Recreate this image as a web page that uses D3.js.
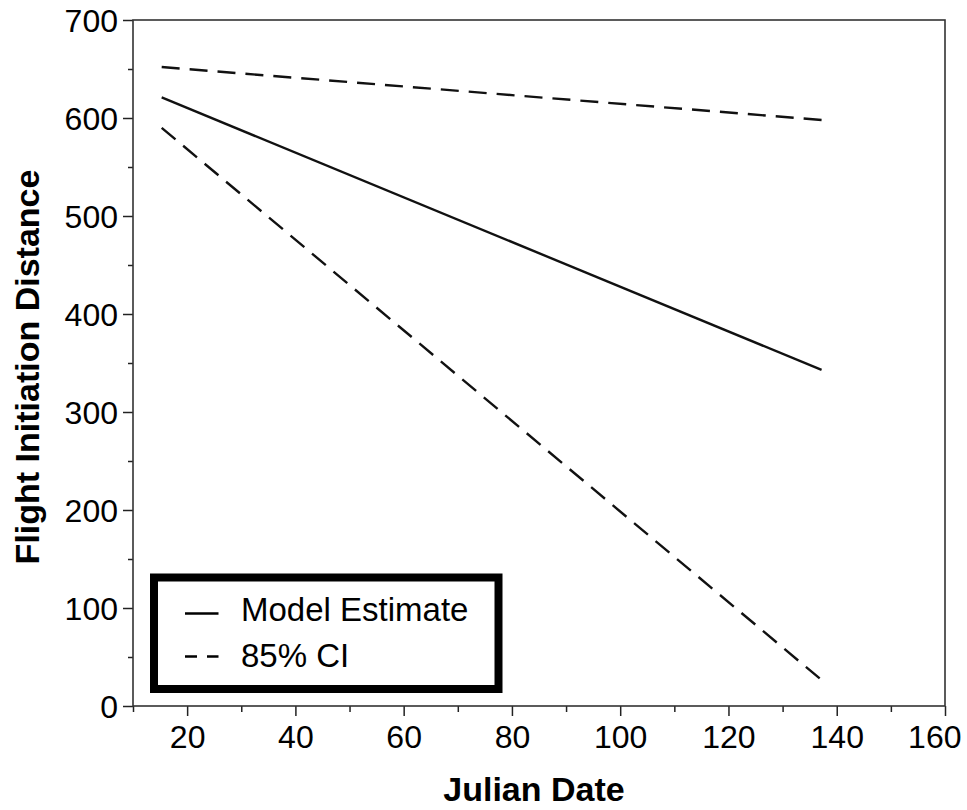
<!DOCTYPE html>
<html>
<head>
<meta charset="utf-8">
<script src="https://cdn.jsdelivr.net/npm/d3@7"></script>
<style>
  body { margin: 0; background: #fff; }
  svg { display: block; font-family: "Liberation Sans", Arial, sans-serif; }
  .tick text { fill: #000; }
</style>
</head>
<body>
<svg></svg>
<script>
// data
const julianDate = [15.3, 137.2];
const modelEstimate = [621, 343];
const ciUpper = [652, 598];
const ciLower = [590, 26.5];

const xMajor = [20, 40, 60, 80, 100, 120, 140, 160];
const xMinor = [10, 30, 50, 70, 90, 110, 130, 150];
const yMajor = [0, 100, 200, 300, 400, 500, 600, 700];
const yMinor = [50, 150, 250, 350, 450, 550, 650];

const legendItems = ['Model Estimate', '85% CI'];

const size = {w: 967, h: 810};
const margin = {t: 20, r: 22, b: 104, l: 133};
const svg = d3.select('svg')
    .attr('width', size.w)
    .attr('height', size.h);

const x = d3.scaleLinear().domain([10, 160]).range([margin.l, size.w - margin.r]);
const y = d3.scaleLinear().domain([0, 700]).range([size.h - margin.b, margin.t]);

//Axes
function drawAxis(axis, transform, labels) {
    const g = svg.append('g').attr('transform', transform).call(axis);
    g.select('.domain').remove();
    g.selectAll('.tick line').attr('stroke', '#222').attr('stroke-width', 1.5);
    g.selectAll('.tick text').style('font-size', '32px');
    if (!labels) g.selectAll('.tick text').remove();
    return g;
}

const xAxisG = drawAxis(d3.axisBottom(x).tickValues(xMajor).tickSize(10).tickPadding(9).tickFormat(d3.format('d')),
    `translate(0,${y(0)})`, true);
// last label is pulled inside the picture, as in the original
xAxisG.selectAll('.tick text')
    .filter(d => d == 160)
    .attr('text-anchor', 'end')
    .attr('x', 16);
drawAxis(d3.axisBottom(x).tickValues(xMinor).tickSize(6), `translate(0,${y(0)})`, false);
drawAxis(d3.axisLeft(y).tickValues(yMajor).tickSize(10).tickPadding(5).tickFormat(d3.format('d')),
    `translate(${x(10)},0)`, true)
    .selectAll('.tick text').attr('dy', '0.36em');
drawAxis(d3.axisLeft(y).tickValues(yMinor).tickSize(5), `translate(${x(10)},0)`, false);

//Frame
svg.append('rect')
    .attr('x', x(10))
    .attr('y', y(700))
    .attr('width', x(160) - x(10))
    .attr('height', y(0) - y(700))
    .attr('fill', 'none')
    .attr('stroke', '#333')
    .attr('stroke-width', 1.6);

//Axis titles
svg.append('text')
    .attr('x', (x(10) + x(160)) / 2 - 5)
    .attr('y', 801)
    .attr('text-anchor', 'middle')
    .style('font-size', '34px')
    .style('font-weight', 'bold')
    .text('Julian Date');

svg.append('text')
    .attr('transform', `translate(39,${(y(0) + y(700)) / 2 + 4}) rotate(-90)`)
    .attr('text-anchor', 'middle')
    .style('font-size', '34px')
    .style('font-weight', 'bold')
    .text('Flight Initiation Distance');

//Lines
const line = d3.line().x(d => x(d[0])).y(d => y(d[1]));
const series = [
    {vals: modelEstimate, dash: null},
    {vals: ciUpper, dash: '18,10'},
    {vals: ciLower, dash: '18,10'}
];
svg.selectAll('path.series')
    .data(series)
    .enter()
    .append('path')
    .classed('series', true)
    .attr('d', d => line(julianDate.map((j, i) => [j, d.vals[i]])))
    .attr('fill', 'none')
    .attr('stroke', '#111')
    .attr('stroke-width', 2.4)
    .attr('stroke-dasharray', d => d.dash);

//Legend
const lg = svg.append('g').attr('transform', 'translate(154,577.5)');
lg.append('rect')
    .attr('width', 344.5)
    .attr('height', 111.5)
    .attr('fill', '#fff')
    .attr('stroke', '#000')
    .attr('stroke-width', 8);

const rows = lg.selectAll('g.row')
    .data(legendItems)
    .enter()
    .append('g')
    .attr('transform', (d, i) => `translate(0,${i * 46})`);

rows.append('line')
    .attr('x1', 31).attr('x2', 64.5)
    .attr('y1', (d, i) => i == 0 ? 36 : 33)
    .attr('y2', (d, i) => i == 0 ? 36 : 33)
    .attr('stroke', '#000')
    .attr('stroke-width', 2.4)
    .attr('stroke-dasharray', (d, i) => i == 0 ? null : '12,10');

rows.append('text')
    .attr('x', 87)
    .attr('y', 43)
    .style('font-size', '33px')
    .text(d => d);
</script>
</body>
</html>
